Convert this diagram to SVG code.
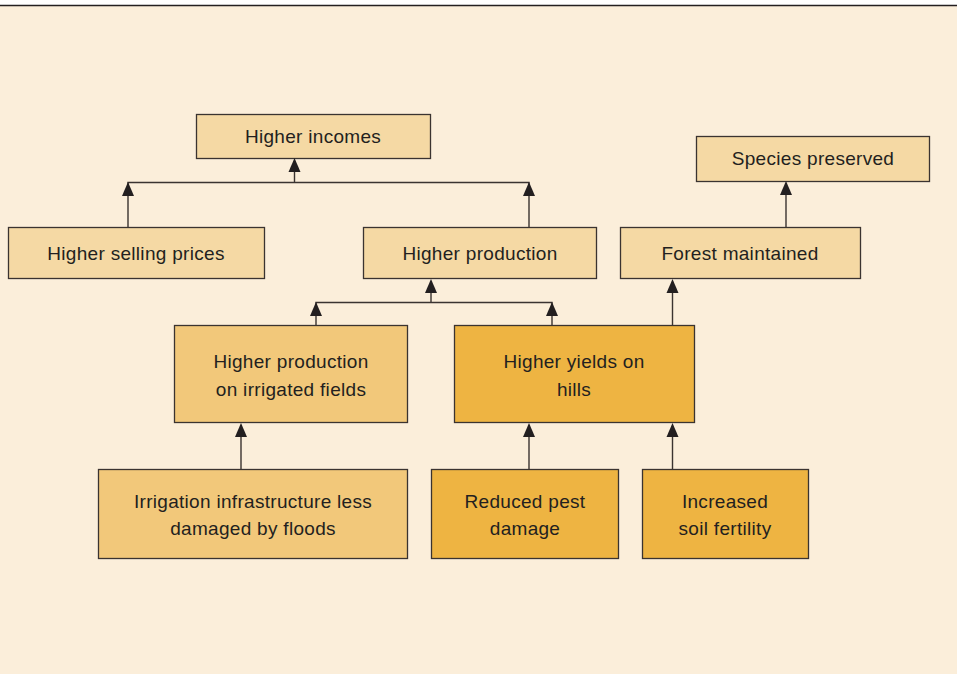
<svg xmlns="http://www.w3.org/2000/svg" width="957" height="674" viewBox="0 0 957 674">
<defs>
<style>
.bg{fill:#fbeeda}
.n rect{stroke:#3a3330;stroke-width:1.3}
.l rect{fill:#f5d9a4}
.m rect{fill:#f2c87a}
.d rect{fill:#eeb442}
text{font-family:"Liberation Sans",Arial,sans-serif;font-size:19px;letter-spacing:0.3px;fill:#231f20;text-anchor:middle}
.c path{fill:none;stroke:#3a3330;stroke-width:1.4}
.c polygon{fill:#231f20}
</style>
</defs>
<rect class="bg" x="0" y="6" width="957" height="668"/>
<line x1="0" y1="5.5" x2="957" y2="5.5" stroke="#231f20" stroke-width="1.5"/>
<g id="n-higher-incomes" class="n l"><rect x="196.5" y="114.5" width="234" height="44"/><text x="313" y="143">Higher incomes</text></g>
<g id="n-species" class="n l"><rect x="696.5" y="136.5" width="233" height="45"/><text x="813" y="165">Species preserved</text></g>
<g id="n-selling" class="n l"><rect x="8.5" y="227.5" width="256" height="51"/><text x="136" y="260">Higher selling prices</text></g>
<g id="n-production" class="n l"><rect x="363.5" y="227.5" width="233" height="51"/><text x="480" y="260">Higher production</text></g>
<g id="n-forest" class="n l"><rect x="620.5" y="227.5" width="240" height="51"/><text x="740" y="260">Forest maintained</text></g>
<g id="n-irrigated" class="n m"><rect x="174.5" y="325.5" width="233" height="97"/><text x="291" y="368">Higher production</text><text x="291" y="396">on irrigated fields</text></g>
<g id="n-hills" class="n d"><rect x="454.5" y="325.5" width="240" height="97"/><text x="574" y="368">Higher yields on</text><text x="574" y="396">hills</text></g>
<g id="n-infra" class="n m"><rect x="98.5" y="469.5" width="309" height="89"/><text x="253" y="508">Irrigation infrastructure less</text><text x="253" y="535">damaged by floods</text></g>
<g id="n-pest" class="n d"><rect x="431.5" y="469.5" width="187" height="89"/><text x="525" y="508">Reduced pest</text><text x="525" y="535">damage</text></g>
<g id="n-soil" class="n d"><rect x="642.5" y="469.5" width="166" height="89"/><text x="725" y="508">Increased</text><text x="725" y="535">soil fertility</text></g>
<g id="connectors" class="c">
<path d="M128 227V182.5H529V227M294.5 182.5V165"/>
<polygon points="294.5,158 288.5,172 300.5,172"/>
<polygon points="128,182 122,196 134,196"/>
<polygon points="529,182 523,196 535,196"/>
<path d="M316 325V302.5H552V325M431 302.5V285"/>
<polygon points="431,279 425,293 437,293"/>
<polygon points="316,302 310,316 322,316"/>
<polygon points="552,302 546,316 558,316"/>
<path d="M672.5 325V286"/>
<polygon points="672.5,279 666.5,293 678.5,293"/>
<path d="M786 227V188"/>
<polygon points="786,181 780,195 792,195"/>
<path d="M241 469V429"/>
<polygon points="241,423 235,437 247,437"/>
<path d="M529 469V429"/>
<polygon points="529,423 523,437 535,437"/>
<path d="M672.5 469V429"/>
<polygon points="672.5,423 666.5,437 678.5,437"/>
</g>
</svg>
